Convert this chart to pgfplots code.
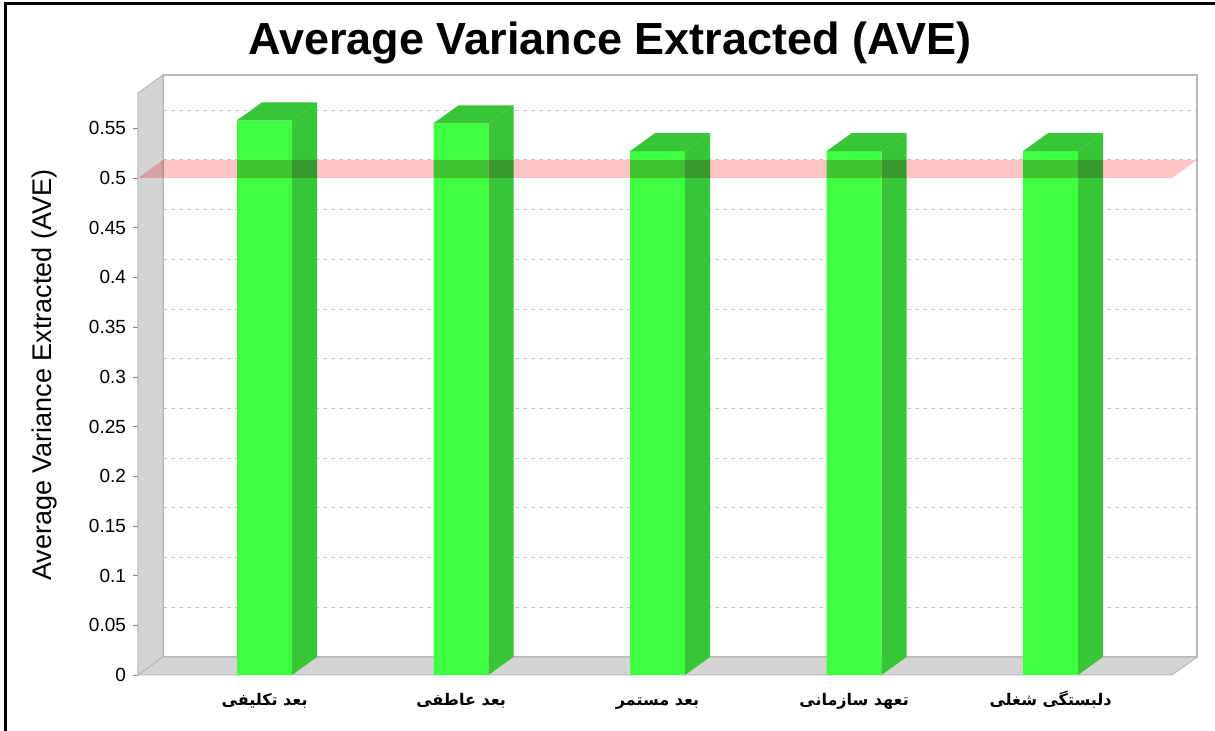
\documentclass[border=0pt]{standalone}
\usepackage{pgfplots}
\pgfplotsset{compat=1.18}
\usepackage{fontspec}
\setmainfont{Liberation Sans}
\newfontfamily\arabicfont[Script=Arabic]{DejaVu Sans}
\TeXXeTstate=1
\definecolor{barfront}{RGB}{64,255,64}
\definecolor{barside}{RGB}{56,198,56}
\definecolor{wallgray}{RGB}{212,212,212}
\definecolor{walledge}{RGB}{185,185,185}
\definecolor{gridgray}{RGB}{200,200,200}
\definecolor{bandpink}{RGB}{255,196,196}
\begin{document}
\begin{tikzpicture}
\fill[white] (0,0) rectangle (607.5pt,365.5pt);
\useasboundingbox (0,0) rectangle (607.5pt,365.5pt);
\draw[black, line width=1.5pt] (2.5pt,0) -- (2.5pt,363.5pt) -- (607.5pt,363.5pt);
\begin{axis}[
  at={(69pt,28pt)}, anchor=south west,
  scale only axis, width=517pt, height=291pt,
  xmin=-0.644, xmax=4.618, ymin=0, ymax=0.5855,
  clip=false,
  axis line style={draw=none},
  xtick={0,1,2,3,4},
  xticklabels={{\arabicfont\bfseries\beginR بعد تکلیفی\endR},{\arabicfont\bfseries\beginR بعد عاطفی\endR},{\arabicfont\bfseries\beginR بعد مستمر\endR},{\arabicfont\bfseries\beginR تعهد سازمانی\endR},{\arabicfont\bfseries\beginR دلبستگی شغلی\endR}},
  xtick style={draw=none},
  xticklabel style={font=\fontsize{8}{10}\selectfont, text height=1.6ex, text depth=0.9ex, yshift=-1pt},
  ytick={0,0.05,0.1,0.15,0.2,0.25,0.3,0.35,0.4,0.45,0.5,0.55},
  ytick pos=left, tick align=outside, major tick length=2.5pt,
  ytick style={draw=gray},
  ymajorgrids,
  grid style={gridgray, line width=0.5pt, dash pattern=on 2pt off 2pt, xshift=12.5pt, yshift=9pt},
  yticklabel style={font=\fontsize{9.5}{11}\selectfont},
  /pgf/number format/assume math mode=true,
  /pgf/number format/fixed, /pgf/number format/precision=2,
  ylabel={Average Variance Extracted (AVE)},
  every axis y label/.style={at={(axis description cs:-0.09,0.515)}, rotate=90, anchor=center, font=\fontsize{13.5}{15}\selectfont},
  title={Average Variance Extracted (AVE)},
  every axis title/.style={at={(axis description cs:0.4565,1.066)}, anchor=base, font=\fontsize{22.5}{27}\selectfont\bfseries},
]
% back wall border
\addplot[draw=walledge, line width=0.6pt] coordinates {(-0.517,0.0181) (4.745,0.0181) (4.745,0.6036) (-0.517,0.6036)} -- cycle;
% left wall
\addplot[fill=wallgray, draw=walledge, line width=0.5pt] coordinates {(-0.644,0) (-0.644,0.5855) (-0.517,0.6036) (-0.517,0.0181)} -- cycle;
% floor
\addplot[fill=wallgray, draw=walledge, line width=0.5pt] coordinates {(-0.644,0) (4.618,0) (4.745,0.0181) (-0.517,0.0181)} -- cycle;
% bar fronts
\addplot[ybar, bar width=0.28, fill=barfront, draw=none] coordinates {(0,0.558) (1,0.555) (2,0.527) (3,0.527) (4,0.527)};
% bar sides
\addplot[fill=barside, draw=none] coordinates {(0.14,0) (0.267,0.0181) (0.267,0.5761) (0.14,0.558)} -- cycle;
\addplot[fill=barside, draw=none] coordinates {(1.14,0) (1.267,0.0181) (1.267,0.5731) (1.14,0.555)} -- cycle;
\addplot[fill=barside, draw=none] coordinates {(2.14,0) (2.267,0.0181) (2.267,0.5451) (2.14,0.527)} -- cycle;
\addplot[fill=barside, draw=none] coordinates {(3.14,0) (3.267,0.0181) (3.267,0.5451) (3.14,0.527)} -- cycle;
\addplot[fill=barside, draw=none] coordinates {(4.14,0) (4.267,0.0181) (4.267,0.5451) (4.14,0.527)} -- cycle;
% bar tops
\addplot[fill=barside, draw=none] coordinates {(-0.14,0.558) (0.14,0.558) (0.267,0.5761) (-0.013,0.5761)} -- cycle;
\addplot[fill=barside, draw=none] coordinates {(0.86,0.555) (1.14,0.555) (1.267,0.5731) (0.987,0.5731)} -- cycle;
\addplot[fill=barside, draw=none] coordinates {(1.86,0.527) (2.14,0.527) (2.267,0.5451) (1.987,0.5451)} -- cycle;
\addplot[fill=barside, draw=none] coordinates {(2.86,0.527) (3.14,0.527) (3.267,0.5451) (2.987,0.5451)} -- cycle;
\addplot[fill=barside, draw=none] coordinates {(3.86,0.527) (4.14,0.527) (4.267,0.5451) (3.987,0.5451)} -- cycle;
% threshold band at 0.5
\addplot[fill=bandpink, blend mode=multiply, draw=none] coordinates {(-0.644,0.5) (4.618,0.5) (4.745,0.5181) (-0.517,0.5181)} -- cycle;
\end{axis}
\end{tikzpicture}
\end{document}
